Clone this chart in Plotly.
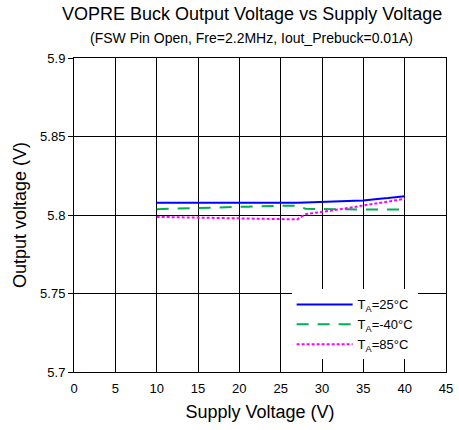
import plotly.graph_objects as go

supply_v = list(range(10, 41))

vout_25c = [5.8078, 5.8078, 5.8077, 5.8078, 5.8078, 5.8077, 5.8077, 5.8077, 5.8076, 5.8076,
            5.8076, 5.8076, 5.8076, 5.8075, 5.8075, 5.8076, 5.8077, 5.8078, 5.8080, 5.8081,
            5.8082, 5.8084, 5.8086, 5.8088, 5.8090, 5.8092, 5.8100, 5.8104, 5.8108, 5.8114,
            5.8120]
vout_m40c = [5.8037, 5.8038, 5.8040, 5.8041, 5.8042, 5.8045, 5.8047, 5.8048, 5.8049, 5.8050,
             5.8052, 5.8053, 5.8055, 5.8056, 5.8057, 5.8058, 5.8059, 5.8060, 5.8040, 5.8038,
             5.8037, 5.8037, 5.8036, 5.8036, 5.8036, 5.8035, 5.8035, 5.8035, 5.8035, 5.8035,
             5.8035]
vout_85c = [5.7988, 5.7987, 5.7986, 5.7985, 5.7984, 5.7983, 5.7982, 5.7981, 5.7980, 5.7979,
            5.7978, 5.7977, 5.7976, 5.7975, 5.7974, 5.7973, 5.7972, 5.7972, 5.8005, 5.8014,
            5.8020, 5.8027, 5.8035, 5.8043, 5.8050, 5.8058, 5.8066, 5.8074, 5.8084, 5.8094,
            5.8103]

x_ticks = [0, 5, 10, 15, 20, 25, 30, 35, 40, 45]
y_ticks = [5.7, 5.75, 5.8, 5.85, 5.9]
y_tick_text = ["5.7", "5.75", "5.8", "5.85", "5.9"]

font_family = "Liberation Sans, Arial, sans-serif"

fig = go.Figure()
fig.add_trace(go.Scatter(x=supply_v, y=vout_25c, mode="lines", name="T<sub>A</sub>=25°C",
                         line=dict(color="#0000FF", width=2)))
fig.add_trace(go.Scatter(x=supply_v, y=vout_m40c, mode="lines", name="T<sub>A</sub>=-40°C",
                         line=dict(color="#00B050", width=2, dash="12px,9px")))
fig.add_trace(go.Scatter(x=supply_v, y=vout_85c, mode="lines", name="T<sub>A</sub>=85°C",
                         line=dict(color="#FF00FF", width=2, dash="3px,2px")))

fig.update_layout(
    width=459, height=430,
    margin=dict(l=74, r=13, t=58, b=58, autoexpand=False),
    paper_bgcolor="white", plot_bgcolor="white",
    font=dict(family=font_family, color="black", size=13),
    showlegend=True,
    legend=dict(x=0.585, y=0.04, xanchor="left", yanchor="bottom",
                bgcolor="white", borderwidth=0, font=dict(size=13),
                tracegroupgap=0, itemwidth=56),
    annotations=[
        dict(text="VOPRE Buck Output Voltage vs Supply Voltage", xref="paper", yref="paper",
             x=0.478, y=1.0, yshift=44, showarrow=False, font=dict(size=18),
             xanchor="center", yanchor="middle"),
        dict(text="(FSW Pin Open, Fre=2.2MHz, Iout_Prebuck=0.01A)", xref="paper", yref="paper",
             x=0.478, y=1.0, yshift=20, showarrow=False, font=dict(size=14),
             xanchor="center", yanchor="middle"),
    ],
)

fig.update_xaxes(range=[0, 45], tickvals=x_ticks, ticktext=[str(v) for v in x_ticks],
                 showgrid=True, gridcolor="black", gridwidth=1, automargin=False,
                 showline=True, linecolor="black", linewidth=1, mirror=True,
                 ticks="", zeroline=False, ticklabelstandoff=4,
                 title=dict(text="Supply Voltage (V)", font=dict(size=18), standoff=10),
                 tickfont=dict(size=13))
fig.update_yaxes(range=[5.7, 5.9], tickvals=y_ticks, ticktext=y_tick_text,
                 showgrid=True, gridcolor="black", gridwidth=1, automargin=False,
                 showline=True, linecolor="black", linewidth=1, mirror=True,
                 ticks="outside", ticklen=5, tickcolor="black", zeroline=False,
                 title=dict(text="Output voltage (V)", font=dict(size=18), standoff=8),
                 tickfont=dict(size=13))

fig.write_html("out.html")
